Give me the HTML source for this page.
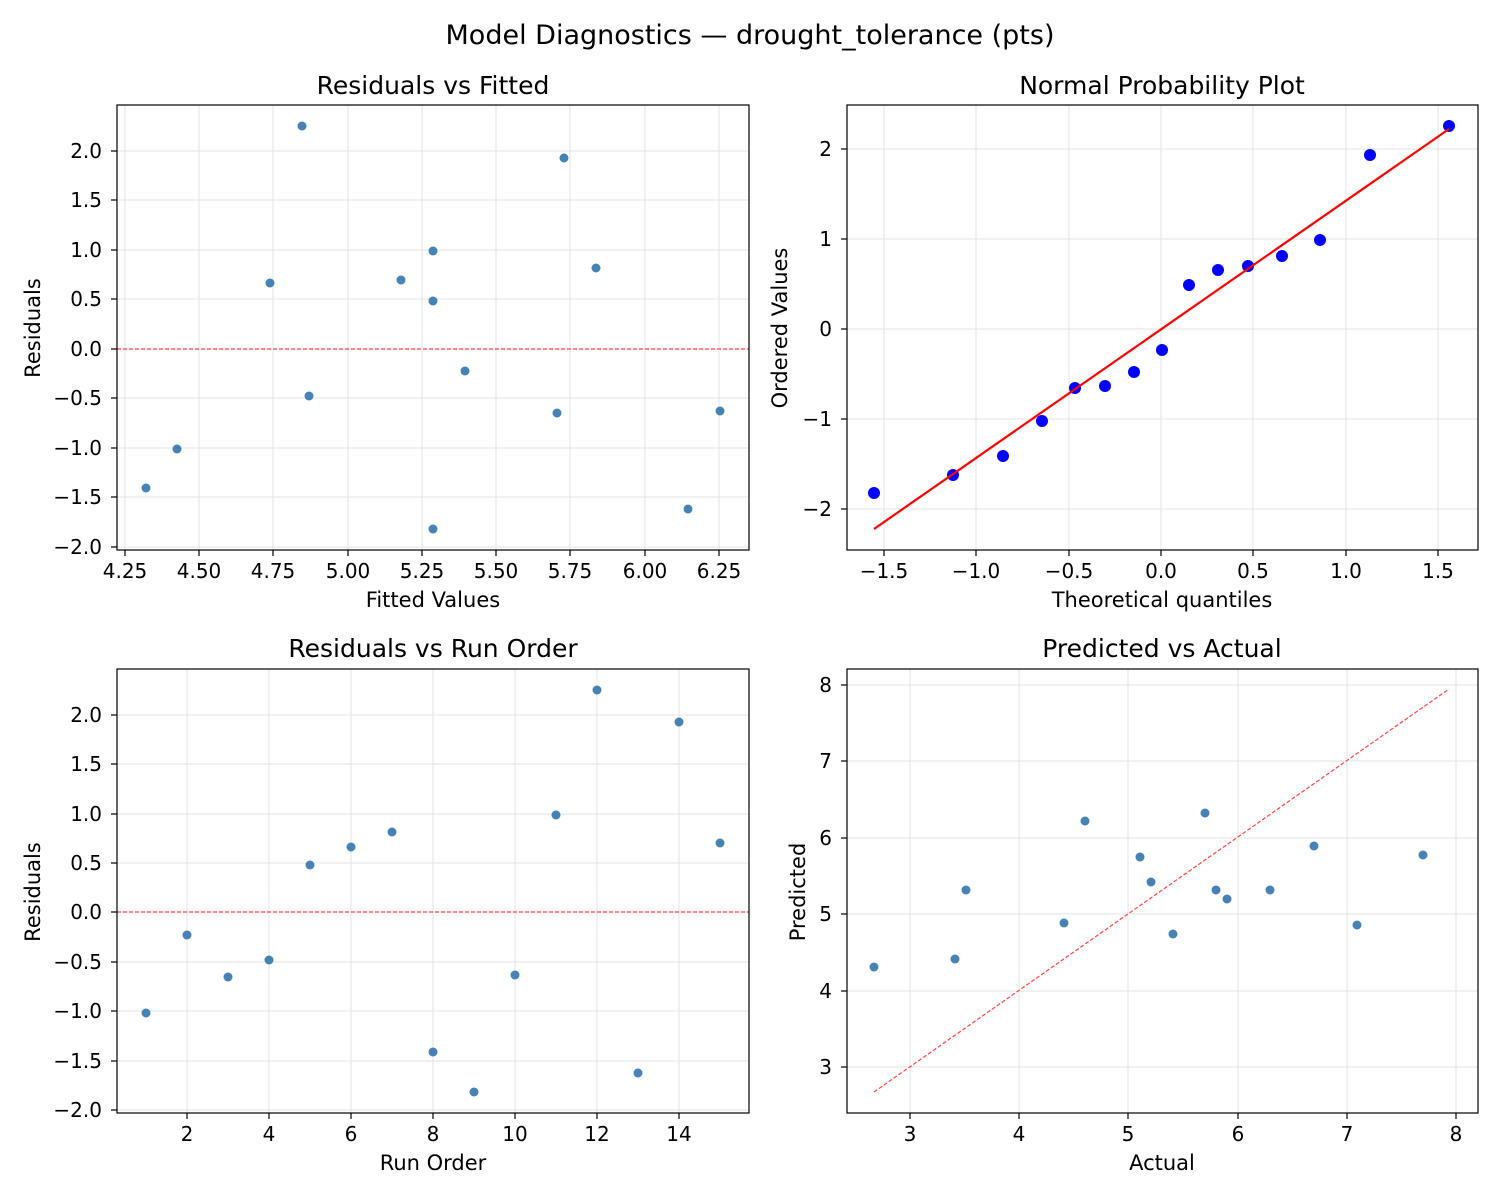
<!DOCTYPE html>
<html><head><meta charset="utf-8"><style>body{margin:0;background:#fff}svg{display:block}text{font-family:"DejaVu Sans","Liberation Sans",sans-serif;fill:#000}</style></head>
<body>
<svg width="1500" height="1200" xmlns="http://www.w3.org/2000/svg">
<text x="750" y="44" font-size="27" text-anchor="middle">Model Diagnostics — drought_tolerance (pts)</text>

<!-- Top-left -->
<g stroke="#e3e3e3" stroke-width="1">
<line x1="125" y1="105" x2="125" y2="550"/><line x1="199" y1="105" x2="199" y2="550"/><line x1="273" y1="105" x2="273" y2="550"/><line x1="348" y1="105" x2="348" y2="550"/><line x1="422" y1="105" x2="422" y2="550"/><line x1="496" y1="105" x2="496" y2="550"/><line x1="570" y1="105" x2="570" y2="550"/><line x1="645" y1="105" x2="645" y2="550"/><line x1="719" y1="105" x2="719" y2="550"/>
<line x1="117" y1="151" x2="749" y2="151"/><line x1="117" y1="200" x2="749" y2="200"/><line x1="117" y1="250" x2="749" y2="250"/><line x1="117" y1="299" x2="749" y2="299"/><line x1="117" y1="349" x2="749" y2="349"/><line x1="117" y1="398" x2="749" y2="398"/><line x1="117" y1="448" x2="749" y2="448"/><line x1="117" y1="497" x2="749" y2="497"/><line x1="117" y1="547" x2="749" y2="547"/>
</g>
<g stroke="#000" stroke-width="1.2">
<line x1="125" y1="550" x2="125" y2="556"/><line x1="199" y1="550" x2="199" y2="556"/><line x1="273" y1="550" x2="273" y2="556"/><line x1="348" y1="550" x2="348" y2="556"/><line x1="422" y1="550" x2="422" y2="556"/><line x1="496" y1="550" x2="496" y2="556"/><line x1="570" y1="550" x2="570" y2="556"/><line x1="645" y1="550" x2="645" y2="556"/><line x1="719" y1="550" x2="719" y2="556"/>
<line x1="111" y1="151" x2="117" y2="151"/><line x1="111" y1="200" x2="117" y2="200"/><line x1="111" y1="250" x2="117" y2="250"/><line x1="111" y1="299" x2="117" y2="299"/><line x1="111" y1="349" x2="117" y2="349"/><line x1="111" y1="398" x2="117" y2="398"/><line x1="111" y1="448" x2="117" y2="448"/><line x1="111" y1="497" x2="117" y2="497"/><line x1="111" y1="547" x2="117" y2="547"/>
</g>
<line x1="117" y1="349" x2="749" y2="349" stroke="#f44" stroke-dasharray="4,2" stroke-width="1.2"/>
<g fill="#4682b4">
<circle cx="146" cy="488" r="4.5"/><circle cx="177" cy="449" r="4.5"/><circle cx="270" cy="283" r="4.5"/><circle cx="302" cy="126" r="4.5"/><circle cx="309" cy="396" r="4.5"/><circle cx="401" cy="280" r="4.5"/><circle cx="433" cy="251" r="4.5"/><circle cx="433" cy="301" r="4.5"/><circle cx="433" cy="529" r="4.5"/><circle cx="465" cy="371" r="4.5"/><circle cx="557" cy="413" r="4.5"/><circle cx="564" cy="158" r="4.5"/><circle cx="596" cy="268" r="4.5"/><circle cx="688" cy="509" r="4.5"/><circle cx="720" cy="411" r="4.5"/>
</g>
<rect x="117" y="105" width="632" height="445" fill="none" stroke="#000" stroke-width="1.2"/>
<g font-size="20" text-anchor="middle">
<text x="125" y="578">4.25</text><text x="199" y="578">4.50</text><text x="273" y="578">4.75</text><text x="348" y="578">5.00</text><text x="422" y="578">5.25</text><text x="496" y="578">5.50</text><text x="570" y="578">5.75</text><text x="645" y="578">6.00</text><text x="719" y="578">6.25</text>
</g>
<g font-size="20" text-anchor="end">
<text x="102" y="158">2.0</text><text x="102" y="207">1.5</text><text x="102" y="257">1.0</text><text x="102" y="306">0.5</text><text x="102" y="356">0.0</text><text x="102" y="405">−0.5</text><text x="102" y="455">−1.0</text><text x="102" y="504">−1.5</text><text x="102" y="554">−2.0</text>
</g>
<text x="433" y="94" font-size="25" text-anchor="middle">Residuals vs Fitted</text>
<text x="433" y="607" font-size="21" text-anchor="middle">Fitted Values</text>
<text x="40" y="328" font-size="21" text-anchor="middle" transform="rotate(-90 40 328)">Residuals</text>

<!-- Top-right -->
<g stroke="#e3e3e3">
<line x1="884" y1="105" x2="884" y2="550"/><line x1="976" y1="105" x2="976" y2="550"/><line x1="1069" y1="105" x2="1069" y2="550"/><line x1="1161" y1="105" x2="1161" y2="550"/><line x1="1253" y1="105" x2="1253" y2="550"/><line x1="1346" y1="105" x2="1346" y2="550"/><line x1="1438" y1="105" x2="1438" y2="550"/>
<line x1="847" y1="149" x2="1478" y2="149"/><line x1="847" y1="239" x2="1478" y2="239"/><line x1="847" y1="329" x2="1478" y2="329"/><line x1="847" y1="419" x2="1478" y2="419"/><line x1="847" y1="509" x2="1478" y2="509"/>
</g>
<g stroke="#000" stroke-width="1.2">
<line x1="884" y1="550" x2="884" y2="556"/><line x1="976" y1="550" x2="976" y2="556"/><line x1="1069" y1="550" x2="1069" y2="556"/><line x1="1161" y1="550" x2="1161" y2="556"/><line x1="1253" y1="550" x2="1253" y2="556"/><line x1="1346" y1="550" x2="1346" y2="556"/><line x1="1438" y1="550" x2="1438" y2="556"/>
<line x1="841" y1="149" x2="847" y2="149"/><line x1="841" y1="239" x2="847" y2="239"/><line x1="841" y1="329" x2="847" y2="329"/><line x1="841" y1="419" x2="847" y2="419"/><line x1="841" y1="509" x2="847" y2="509"/>
</g>
<g fill="#0000ff">
<circle cx="874" cy="493" r="6"/><circle cx="953" cy="475" r="6"/><circle cx="1003" cy="456" r="6"/><circle cx="1042" cy="421" r="6"/><circle cx="1075" cy="388" r="6"/><circle cx="1105" cy="386" r="6"/><circle cx="1134" cy="372" r="6"/><circle cx="1162" cy="350" r="6"/><circle cx="1189" cy="285" r="6"/><circle cx="1218" cy="270" r="6"/><circle cx="1248" cy="266" r="6"/><circle cx="1282" cy="256" r="6"/><circle cx="1320" cy="240" r="6"/><circle cx="1370" cy="155" r="6"/><circle cx="1449" cy="126" r="6"/>
</g>
<line x1="874" y1="529" x2="1449" y2="129" stroke="#f00" stroke-width="2.2"/>
<rect x="847" y="105" width="631" height="445" fill="none" stroke="#000" stroke-width="1.2"/>
<g font-size="20" text-anchor="middle">
<text x="884" y="578">−1.5</text><text x="976" y="578">−1.0</text><text x="1069" y="578">−0.5</text><text x="1161" y="578">0.0</text><text x="1253" y="578">0.5</text><text x="1346" y="578">1.0</text><text x="1438" y="578">1.5</text>
</g>
<g font-size="20" text-anchor="end">
<text x="832" y="156">2</text><text x="832" y="246">1</text><text x="832" y="336">0</text><text x="832" y="426">−1</text><text x="832" y="516">−2</text>
</g>
<text x="1162" y="94" font-size="25" text-anchor="middle">Normal Probability Plot</text>
<text x="1162" y="607" font-size="21" text-anchor="middle">Theoretical quantiles</text>
<text x="787" y="328" font-size="21" text-anchor="middle" transform="rotate(-90 787 328)">Ordered Values</text>

<!-- Bottom-left -->
<g stroke="#e3e3e3">
<line x1="187" y1="669" x2="187" y2="1113"/><line x1="269" y1="669" x2="269" y2="1113"/><line x1="351" y1="669" x2="351" y2="1113"/><line x1="433" y1="669" x2="433" y2="1113"/><line x1="515" y1="669" x2="515" y2="1113"/><line x1="597" y1="669" x2="597" y2="1113"/><line x1="679" y1="669" x2="679" y2="1113"/>
<line x1="117" y1="715" x2="749" y2="715"/><line x1="117" y1="764" x2="749" y2="764"/><line x1="117" y1="814" x2="749" y2="814"/><line x1="117" y1="863" x2="749" y2="863"/><line x1="117" y1="912" x2="749" y2="912"/><line x1="117" y1="962" x2="749" y2="962"/><line x1="117" y1="1011" x2="749" y2="1011"/><line x1="117" y1="1061" x2="749" y2="1061"/><line x1="117" y1="1110" x2="749" y2="1110"/>
</g>
<g stroke="#000" stroke-width="1.2">
<line x1="187" y1="1113" x2="187" y2="1119"/><line x1="269" y1="1113" x2="269" y2="1119"/><line x1="351" y1="1113" x2="351" y2="1119"/><line x1="433" y1="1113" x2="433" y2="1119"/><line x1="515" y1="1113" x2="515" y2="1119"/><line x1="597" y1="1113" x2="597" y2="1119"/><line x1="679" y1="1113" x2="679" y2="1119"/>
<line x1="111" y1="715" x2="117" y2="715"/><line x1="111" y1="764" x2="117" y2="764"/><line x1="111" y1="814" x2="117" y2="814"/><line x1="111" y1="863" x2="117" y2="863"/><line x1="111" y1="912" x2="117" y2="912"/><line x1="111" y1="962" x2="117" y2="962"/><line x1="111" y1="1011" x2="117" y2="1011"/><line x1="111" y1="1061" x2="117" y2="1061"/><line x1="111" y1="1110" x2="117" y2="1110"/>
</g>
<line x1="117" y1="912" x2="749" y2="912" stroke="#f44" stroke-dasharray="4,2" stroke-width="1.2"/>
<g fill="#4682b4">
<circle cx="146" cy="1013" r="4.5"/><circle cx="187" cy="935" r="4.5"/><circle cx="228" cy="977" r="4.5"/><circle cx="269" cy="960" r="4.5"/><circle cx="310" cy="865" r="4.5"/><circle cx="351" cy="847" r="4.5"/><circle cx="392" cy="832" r="4.5"/><circle cx="433" cy="1052" r="4.5"/><circle cx="474" cy="1092" r="4.5"/><circle cx="515" cy="975" r="4.5"/><circle cx="556" cy="815" r="4.5"/><circle cx="597" cy="690" r="4.5"/><circle cx="638" cy="1073" r="4.5"/><circle cx="679" cy="722" r="4.5"/><circle cx="720" cy="843" r="4.5"/>
</g>
<rect x="117" y="669" width="632" height="444" fill="none" stroke="#000" stroke-width="1.2"/>
<g font-size="20" text-anchor="middle">
<text x="187" y="1141">2</text><text x="269" y="1141">4</text><text x="351" y="1141">6</text><text x="433" y="1141">8</text><text x="515" y="1141">10</text><text x="597" y="1141">12</text><text x="679" y="1141">14</text>
</g>
<g font-size="20" text-anchor="end">
<text x="102" y="722">2.0</text><text x="102" y="771">1.5</text><text x="102" y="821">1.0</text><text x="102" y="870">0.5</text><text x="102" y="919">0.0</text><text x="102" y="969">−0.5</text><text x="102" y="1018">−1.0</text><text x="102" y="1068">−1.5</text><text x="102" y="1117">−2.0</text>
</g>
<text x="433" y="657" font-size="25" text-anchor="middle">Residuals vs Run Order</text>
<text x="433" y="1170" font-size="21" text-anchor="middle">Run Order</text>
<text x="40" y="892" font-size="21" text-anchor="middle" transform="rotate(-90 40 892)">Residuals</text>

<!-- Bottom-right -->
<g stroke="#e3e3e3">
<line x1="910" y1="669" x2="910" y2="1113"/><line x1="1019" y1="669" x2="1019" y2="1113"/><line x1="1128" y1="669" x2="1128" y2="1113"/><line x1="1238" y1="669" x2="1238" y2="1113"/><line x1="1347" y1="669" x2="1347" y2="1113"/><line x1="1456" y1="669" x2="1456" y2="1113"/>
<line x1="847" y1="685" x2="1478" y2="685"/><line x1="847" y1="761" x2="1478" y2="761"/><line x1="847" y1="838" x2="1478" y2="838"/><line x1="847" y1="914" x2="1478" y2="914"/><line x1="847" y1="991" x2="1478" y2="991"/><line x1="847" y1="1067" x2="1478" y2="1067"/>
</g>
<g stroke="#000" stroke-width="1.2">
<line x1="910" y1="1113" x2="910" y2="1119"/><line x1="1019" y1="1113" x2="1019" y2="1119"/><line x1="1128" y1="1113" x2="1128" y2="1119"/><line x1="1238" y1="1113" x2="1238" y2="1119"/><line x1="1347" y1="1113" x2="1347" y2="1119"/><line x1="1456" y1="1113" x2="1456" y2="1119"/>
<line x1="841" y1="685" x2="847" y2="685"/><line x1="841" y1="761" x2="847" y2="761"/><line x1="841" y1="838" x2="847" y2="838"/><line x1="841" y1="914" x2="847" y2="914"/><line x1="841" y1="991" x2="847" y2="991"/><line x1="841" y1="1067" x2="847" y2="1067"/>
</g>
<line x1="874" y1="1092" x2="1449" y2="689" stroke="#f44" stroke-dasharray="4,2" stroke-width="1.2"/>
<g fill="#4682b4">
<circle cx="874" cy="967" r="4.5"/><circle cx="955" cy="959" r="4.5"/><circle cx="966" cy="890" r="4.5"/><circle cx="1064" cy="923" r="4.5"/><circle cx="1085" cy="821" r="4.5"/><circle cx="1140" cy="857" r="4.5"/><circle cx="1151" cy="882" r="4.5"/><circle cx="1173" cy="934" r="4.5"/><circle cx="1205" cy="813" r="4.5"/><circle cx="1216" cy="890" r="4.5"/><circle cx="1227" cy="899" r="4.5"/><circle cx="1270" cy="890" r="4.5"/><circle cx="1314" cy="846" r="4.5"/><circle cx="1357" cy="925" r="4.5"/><circle cx="1423" cy="855" r="4.5"/>
</g>
<rect x="847" y="669" width="631" height="444" fill="none" stroke="#000" stroke-width="1.2"/>
<g font-size="20" text-anchor="middle">
<text x="910" y="1141">3</text><text x="1019" y="1141">4</text><text x="1128" y="1141">5</text><text x="1238" y="1141">6</text><text x="1347" y="1141">7</text><text x="1456" y="1141">8</text>
</g>
<g font-size="20" text-anchor="end">
<text x="832" y="692">8</text><text x="832" y="768">7</text><text x="832" y="845">6</text><text x="832" y="921">5</text><text x="832" y="998">4</text><text x="832" y="1074">3</text>
</g>
<text x="1162" y="657" font-size="25" text-anchor="middle">Predicted vs Actual</text>
<text x="1162" y="1170" font-size="21" text-anchor="middle">Actual</text>
<text x="805" y="892" font-size="21" text-anchor="middle" transform="rotate(-90 805 892)">Predicted</text>
</svg>
</body></html>
